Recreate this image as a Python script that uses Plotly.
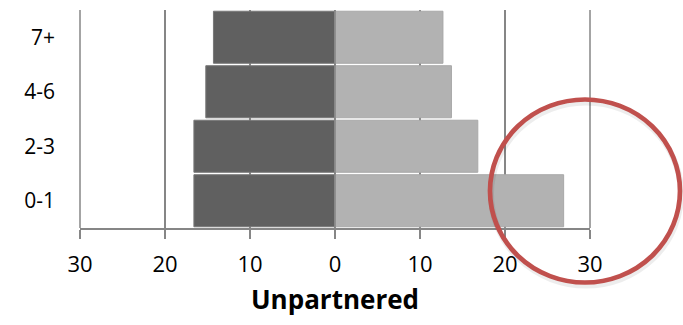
import plotly.graph_objects as go

# Age groups of the youngest child, bottom to top
categories = ["0-1", "2-3", "4-6", "7+"]
# Left-hand series (drawn to the left of zero)
left_values = [16.6, 16.6, 15.2, 14.3]
# Right-hand series (drawn to the right of zero)
right_values = [26.9, 16.8, 13.7, 12.7]

tick_values = [-30, -20, -10, 0, 10, 20, 30]
tick_labels = ["30", "20", "10", "0", "10", "20", "30"]
axis_title = "Unpartnered"

GRID = "#868686"
FONT = "Open Sans, Noto Sans, sans-serif"

fig = go.Figure()
fig.add_trace(go.Bar(
    y=categories, x=[-v for v in left_values], orientation="h",
    marker=dict(color="#606060", line=dict(color="#787878", width=1)),
    showlegend=False, hoverinfo="skip",
))
fig.add_trace(go.Bar(
    y=categories, x=right_values, orientation="h",
    marker=dict(color="#b2b2b2", line=dict(color="#a8a8a8", width=1)),
    showlegend=False, hoverinfo="skip",
))

# Plot area in pixels (used to place the highlight ellipse in paper units)
W, H = 683, 325
L, R, T, B = 80, 93, 10, 97
pw, ph = W - L - R, H - T - B


def px_to_paper(x, y):
    return (x - L) / pw, (H - B - y) / ph


shapes = []
# Gridlines at the two ends of the value range (not clipped at the edges)
for v in (tick_values[0], tick_values[-1]):
    xp = (v - tick_values[0]) / (tick_values[-1] - tick_values[0])
    shapes.append(dict(type="line", xref="paper", yref="paper",
                       x0=xp, x1=xp, y0=0, y1=1,
                       line=dict(color=GRID, width=1.5), layer="below"))

# Vertical category axis through zero, drawn on top of the bars
shapes.append(dict(type="line", xref="x", yref="paper", x0=0, x1=0, y0=0, y1=1,
                   line=dict(color=GRID, width=1.5), layer="above"))

# Highlight ellipse with a soft drop shadow
cx, cy, rx, ry = 585, 191, 95, 91.5
for dx, dy, col, w in [(1, 3, "rgba(0,0,0,0.07)", 6), (0, 0, "#c0504d", 4.7)]:
    x0, y0 = px_to_paper(cx - rx + dx, cy + ry + dy)
    x1, y1 = px_to_paper(cx + rx + dx, cy - ry + dy)
    shapes.append(dict(type="circle", xref="paper", yref="paper",
                       x0=x0, x1=x1, y0=y0, y1=y1,
                       line=dict(color=col, width=w), layer="above"))

fig.update_layout(
    width=W, height=H,
    margin=dict(l=L, r=R, t=T, b=B),
    paper_bgcolor="white", plot_bgcolor="white",
    barmode="relative", bargap=0.045,
    font=dict(family=FONT, color="#000000"),
    shapes=shapes,
    xaxis=dict(
        range=[-30, 30], tickvals=tick_values, ticktext=tick_labels,
        showgrid=True, gridcolor=GRID, gridwidth=1.5,
        zeroline=False,
        showline=True, linecolor=GRID, linewidth=1.5,
        ticks="outside", ticklen=9, tickcolor=GRID, tickwidth=1.5,
        ticklabelstandoff=7,
        tickfont=dict(size=22, family=FONT),
        title=dict(text="<b>" + axis_title + "</b>",
                   font=dict(size=26, family=FONT), standoff=14),
        fixedrange=True,
    ),
    yaxis=dict(
        categoryorder="array", categoryarray=categories,
        showgrid=False, zeroline=False, showline=False,
        ticks="", ticklabelstandoff=24,
        tickfont=dict(size=21, family=FONT),
        fixedrange=True,
    ),
)

fig.write_html("out.html", config=dict(displayModeBar=False))
